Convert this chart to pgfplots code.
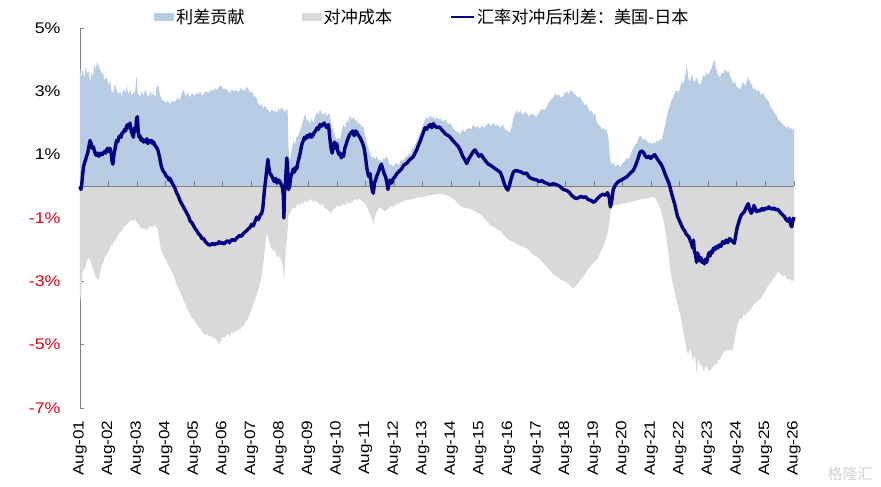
\documentclass[border=0pt]{standalone}
\usepackage{pgfplots}
\pgfplotsset{compat=1.18}
\usepackage{fontspec}
\setmainfont{Liberation Sans}
\newfontfamily\cjk{Noto Sans CJK SC}
\newfontfamily\tickfont[FakeStretch=1.15]{Liberation Sans}
\definecolor{spreadblue}{RGB}{184,204,228}
\definecolor{hedgegrey}{RGB}{217,217,217}
\definecolor{navyline}{RGB}{4,4,132}
\definecolor{axisgrey}{RGB}{128,128,128}
\definecolor{negred}{RGB}{230,0,18}
\begin{document}
\begin{tikzpicture}
\useasboundingbox (-80bp,-79bp) rectangle (801bp,408bp);
\begin{axis}[
  scale only axis,
  width=714bp, height=380bp,
  xmin=0, xmax=25, ymin=-7, ymax=5,
  axis x line*=bottom,
  axis y line*=left,
  x axis line style={draw=none},
  y axis line style={axisgrey, line width=0.8bp},
  xtick={0,...,25},
  xticklabels={Aug-01,Aug-02,Aug-03,Aug-04,Aug-05,Aug-06,Aug-07,Aug-08,Aug-09,Aug-10,Aug-11,Aug-12,Aug-13,Aug-14,Aug-15,Aug-16,Aug-17,Aug-18,Aug-19,Aug-20,Aug-21,Aug-22,Aug-23,Aug-24,Aug-25,Aug-26},
  x tick style={draw=none},
  xticklabel style={rotate=90, anchor=east, font=\tickfont\fontsize{15}{16}\selectfont, xshift=-9bp},
  ytick={-7,-5,-3,-1,1,3,5},
  yticklabels={\textcolor{negred}{-7\%},\textcolor{negred}{-5\%},\textcolor{negred}{-3\%},\textcolor{negred}{-1\%},1\%,3\%,5\%},
  yticklabel style={anchor=east, font=\tickfont\fontsize{15.5}{16}\selectfont, xshift=-16bp},
  y tick style={axisgrey, line width=0.8bp},
  tick align=inside,
  major tick length=4bp,
  clip=false,
  legend columns=3,
  legend style={at={(0.4795,1.029)}, anchor=center, draw=none, fill=none,
    font=\cjk\fontsize{17.2}{19}\selectfont,
    /tikz/every even column/.append style={column sep=55bp},
    nodes={inner sep=2bp}},
  legend cell align=left,
]
% 利差贡献 (blue area)
\addplot[fill=spreadblue, draw=none,
  legend image code/.code={\fill[spreadblue] (0bp,-4bp) rectangle (20bp,4bp);}] table {
x y
0.00 3.75
0.05 3.45
0.10 3.70
0.15 3.40
0.20 3.80
0.25 3.55
0.30 3.65
0.35 3.30
0.40 3.60
0.45 3.45
0.50 3.85
0.55 3.70
0.60 3.95
0.65 3.80
0.70 3.70
0.75 3.55
0.80 3.60
0.85 3.35
0.93 3.45
1.00 3.20
1.05 3.35
1.10 3.00
1.17 2.95
1.22 3.25
1.28 3.05
1.35 2.90
1.40 3.00
1.47 2.85
1.52 3.10
1.58 2.95
1.63 3.15
1.70 2.90
1.75 3.05
1.82 2.85
1.87 3.00
1.92 2.90
1.98 3.50
2.02 2.95
2.10 2.80
2.16 3.00
2.22 2.85
2.28 3.05
2.33 2.95
2.40 2.80
2.47 3.00
2.52 2.85
2.57 2.95
2.63 2.80
2.68 3.10
2.74 3.20
2.80 2.90
2.86 2.75
2.92 2.70
3.00 2.65
3.08 2.70
3.15 2.60
3.22 2.70
3.30 2.65
3.38 2.75
3.45 2.80
3.50 2.70
3.56 2.95
3.62 3.05
3.70 2.85
3.78 2.95
3.85 2.80
3.92 2.95
4.00 2.85
4.09 2.95
4.15 2.90
4.20 3.00
4.28 2.85
4.35 2.95
4.42 3.00
4.50 2.95
4.58 3.05
4.65 3.00
4.72 3.10
4.80 3.05
4.87 3.15
4.95 3.20
5.02 3.05
5.10 3.10
5.18 3.00
5.25 2.95
5.32 3.05
5.40 3.00
5.49 3.05
5.55 2.95
5.62 3.10
5.70 3.05
5.77 3.00
5.84 3.15
5.90 3.05
5.96 2.95
6.03 3.00
6.10 2.80
6.16 2.85
6.22 2.65
6.30 2.55
6.36 2.60
6.42 2.45
6.48 2.55
6.54 2.45
6.60 2.40
6.65 2.30
6.72 2.45
6.77 2.35
6.83 2.40
6.89 2.30
6.95 2.45
7.00 2.40
7.06 2.50
7.12 2.40
7.18 2.35
7.24 2.45
7.27 2.40
7.29 1.40
7.32 0.95
7.35 0.80
7.40 1.10
7.47 1.45
7.52 1.30
7.58 1.55
7.64 1.60
7.70 1.75
7.76 1.90
7.82 2.10
7.88 2.30
7.94 2.05
8.00 2.10
8.05 1.95
8.11 2.15
8.17 2.00
8.23 2.20
8.30 2.35
8.35 2.25
8.40 2.45
8.46 2.30
8.52 2.25
8.58 2.35
8.64 2.20
8.70 2.30
8.75 2.25
8.81 1.90
8.87 1.75
8.93 1.60
8.99 1.45
9.05 1.55
9.10 1.45
9.16 1.75
9.22 1.95
9.28 1.85
9.35 2.10
9.40 2.00
9.45 2.25
9.52 2.10
9.58 2.20
9.64 2.05
9.69 2.10
9.75 1.95
9.80 2.00
9.86 1.85
9.92 1.90
9.98 1.60
10.04 1.35
10.10 1.20
10.16 1.00
10.22 0.90
10.27 0.95
10.33 0.85
10.40 0.95
10.45 0.80
10.50 0.85
10.56 0.75
10.62 0.90
10.68 0.85
10.74 0.95
10.80 0.80
10.86 0.65
10.92 0.70
10.97 0.60
11.03 0.70
11.10 0.75
11.15 0.65
11.20 0.75
11.27 0.85
11.33 0.80
11.40 0.95
11.44 0.90
11.50 1.05
11.56 1.00
11.62 1.15
11.67 1.20
11.73 1.30
11.80 1.45
11.85 1.55
11.90 1.65
11.96 1.80
12.02 1.95
12.08 2.10
12.14 2.20
12.20 2.10
12.26 2.25
12.32 2.15
12.37 2.20
12.43 2.10
12.50 2.20
12.56 2.10
12.61 2.15
12.70 2.05
12.80 2.10
12.90 1.95
12.96 2.00
13.05 1.85
13.15 1.75
13.25 1.70
13.31 1.65
13.40 1.80
13.47 1.70
13.54 1.80
13.62 1.85
13.70 1.80
13.77 1.95
13.85 1.85
13.93 1.90
14.00 1.80
14.06 1.95
14.12 1.85
14.20 1.90
14.30 2.00
14.38 1.90
14.47 2.00
14.55 1.90
14.63 1.95
14.71 1.85
14.80 1.95
14.88 1.80
14.96 1.75
15.06 1.70
15.12 1.90
15.17 2.15
15.23 2.30
15.29 2.40
15.35 2.30
15.42 2.40
15.50 2.25
15.58 2.35
15.64 2.30
15.72 2.20
15.80 2.30
15.88 2.25
15.99 2.20
16.08 2.35
16.18 2.45
16.26 2.40
16.34 2.50
16.42 2.65
16.50 2.75
16.57 2.80
16.63 2.95
16.69 2.85
16.76 2.90
16.84 2.80
16.92 2.85
16.98 2.95
17.04 3.00
17.10 2.90
17.16 3.00
17.21 3.05
17.27 2.95
17.33 2.90
17.39 2.85
17.45 2.80
17.51 2.85
17.57 2.70
17.62 2.65
17.68 2.55
17.74 2.60
17.80 2.45
17.86 2.35
17.92 2.40
17.97 2.25
18.03 2.30
18.09 2.05
18.15 1.95
18.21 1.90
18.27 1.80
18.32 1.85
18.38 1.75
18.44 1.80
18.50 1.55
18.56 0.85
18.62 0.70
18.67 0.75
18.73 0.65
18.79 0.65
18.85 0.70
18.91 0.60
18.97 0.70
19.03 0.75
19.09 0.80
19.14 0.90
19.20 0.85
19.26 0.95
19.32 1.10
19.37 1.20
19.43 1.30
19.49 1.35
19.55 1.50
19.61 1.60
19.67 1.55
19.72 1.45
19.78 1.50
19.84 1.45
19.90 1.35
19.96 1.40
20.02 1.30
20.07 1.40
20.13 1.35
20.19 1.45
20.25 1.40
20.31 1.50
20.36 1.45
20.42 1.65
20.48 1.90
20.54 2.20
20.60 2.40
20.66 2.55
20.72 2.75
20.77 2.80
20.83 2.95
20.89 3.05
20.95 2.95
21.01 3.10
21.07 3.35
21.12 3.20
21.18 3.45
21.24 3.85
21.30 3.40
21.36 3.30
21.42 3.55
21.47 3.35
21.53 3.30
21.59 3.45
21.65 3.25
21.71 3.20
21.77 3.35
21.82 3.50
21.88 3.45
21.94 3.60
22.00 3.50
22.06 3.65
22.12 3.75
22.17 3.90
22.21 4.00
22.25 3.80
22.29 3.65
22.35 3.50
22.41 3.45
22.47 3.60
22.52 3.55
22.58 3.70
22.64 3.60
22.70 3.65
22.76 3.50
22.82 3.35
22.87 3.25
22.93 3.30
22.99 3.15
23.05 3.10
23.11 3.05
23.17 3.20
23.23 3.30
23.29 3.15
23.35 3.35
23.40 3.45
23.46 3.30
23.52 3.20
23.57 3.05
23.63 3.10
23.69 3.00
23.75 3.05
23.81 2.95
23.87 2.90
23.93 2.95
23.99 2.80
24.04 2.75
24.10 2.70
24.16 2.55
24.22 2.45
24.27 2.40
24.33 2.30
24.39 2.25
24.45 2.10
24.51 2.05
24.57 2.00
24.63 1.95
24.69 1.90
24.74 1.85
24.80 1.90
24.86 1.80
24.92 1.85
24.96 1.75
25.00 1.85
} \closedcycle;
\addlegendentry{利差贡献}
% 对冲成本 (grey area)
\addplot[fill=hedgegrey, draw=none,
  legend image code/.code={\fill[hedgegrey] (0bp,-4bp) rectangle (20bp,4bp);}] table {
x y
0.00 -3.65
0.04 -3.40
0.08 -2.80
0.12 -2.55
0.18 -2.65
0.23 -2.35
0.29 -2.25
0.35 -2.30
0.40 -2.45
0.45 -2.60
0.52 -2.80
0.58 -2.90
0.64 -2.95
0.70 -2.75
0.76 -2.50
0.82 -2.40
0.88 -2.20
0.94 -2.15
1.00 -2.05
1.06 -1.90
1.12 -1.85
1.17 -1.80
1.23 -1.70
1.29 -1.60
1.35 -1.50
1.41 -1.45
1.47 -1.40
1.52 -1.30
1.58 -1.25
1.64 -1.20
1.70 -1.15
1.76 -1.10
1.82 -1.05
1.88 -1.10
1.94 -1.05
2.00 -1.15
2.06 -1.20
2.12 -1.30
2.18 -1.35
2.24 -1.30
2.30 -1.40
2.36 -1.35
2.42 -1.30
2.48 -1.25
2.54 -1.30
2.60 -1.20
2.66 -1.25
2.72 -1.35
2.78 -1.70
2.84 -2.00
2.90 -2.15
2.96 -2.25
3.03 -2.35
3.09 -2.50
3.15 -2.55
3.21 -2.70
3.27 -2.80
3.33 -2.95
3.39 -3.10
3.45 -3.20
3.51 -3.35
3.57 -3.45
3.62 -3.60
3.68 -3.70
3.74 -3.85
3.80 -3.95
3.86 -4.05
3.92 -4.15
3.98 -4.20
4.04 -4.30
4.10 -4.35
4.16 -4.45
4.22 -4.50
4.28 -4.60
4.34 -4.65
4.40 -4.70
4.46 -4.65
4.52 -4.75
4.58 -4.70
4.64 -4.80
4.70 -4.75
4.76 -4.85
4.82 -4.90
4.88 -5.00
4.94 -4.85
5.00 -4.75
5.06 -4.80
5.12 -4.70
5.18 -4.65
5.24 -4.75
5.30 -4.60
5.36 -4.65
5.42 -4.55
5.48 -4.60
5.54 -4.50
5.60 -4.55
5.66 -4.40
5.72 -4.45
5.78 -4.30
5.84 -4.25
5.90 -4.15
5.96 -4.00
6.02 -3.85
6.08 -3.70
6.14 -3.55
6.20 -3.40
6.26 -3.20
6.32 -3.00
6.38 -2.70
6.42 -2.40
6.46 -2.10
6.50 -1.75
6.54 -1.45
6.58 -1.60
6.64 -1.80
6.70 -1.95
6.76 -2.05
6.82 -2.00
6.88 -2.20
6.94 -2.25
7.00 -2.20
7.06 -2.35
7.10 -2.50
7.14 -3.05
7.18 -2.40
7.22 -1.90
7.26 -1.50
7.30 -0.95
7.35 -0.85
7.41 -0.75
7.47 -0.65
7.53 -0.70
7.59 -0.60
7.65 -0.55
7.71 -0.60
7.77 -0.50
7.83 -0.55
7.89 -0.45
7.95 -0.50
8.01 -0.45
8.07 -0.40
8.13 -0.45
8.19 -0.50
8.25 -0.45
8.31 -0.50
8.37 -0.55
8.43 -0.60
8.49 -0.55
8.55 -0.65
8.61 -0.70
8.67 -0.75
8.73 -0.80
8.79 -0.85
8.85 -0.75
8.91 -0.70
8.97 -0.65
9.03 -0.60
9.09 -0.65
9.15 -0.60
9.21 -0.55
9.27 -0.60
9.33 -0.55
9.39 -0.50
9.45 -0.55
9.51 -0.50
9.57 -0.45
9.63 -0.40
9.69 -0.45
9.75 -0.40
9.81 -0.40
9.87 -0.45
9.93 -0.50
9.99 -0.55
10.05 -0.65
10.11 -0.80
10.17 -0.90
10.23 -1.05
10.27 -1.20
10.33 -0.95
10.39 -0.80
10.45 -0.70
10.50 -0.65
10.56 -0.70
10.62 -0.75
10.68 -0.80
10.74 -0.75
10.80 -0.70
10.86 -0.65
10.92 -0.60
10.98 -0.65
11.04 -0.60
11.10 -0.55
11.16 -0.55
11.22 -0.50
11.28 -0.50
11.34 -0.45
11.40 -0.45
11.46 -0.42
11.52 -0.45
11.58 -0.40
11.64 -0.40
11.70 -0.38
11.76 -0.36
11.82 -0.35
11.88 -0.36
11.94 -0.33
12.00 -0.34
12.10 -0.31
12.20 -0.30
12.30 -0.27
12.40 -0.26
12.50 -0.24
12.61 -0.23
12.70 -0.25
12.80 -0.27
12.90 -0.30
12.96 -0.33
13.05 -0.38
13.15 -0.45
13.25 -0.55
13.31 -0.62
13.40 -0.65
13.50 -0.68
13.60 -0.70
13.70 -0.72
13.77 -0.76
13.87 -0.80
13.97 -0.85
14.05 -0.90
14.12 -0.97
14.20 -1.05
14.30 -1.15
14.40 -1.25
14.50 -1.30
14.60 -1.35
14.71 -1.40
14.80 -1.50
14.90 -1.60
15.00 -1.68
15.10 -1.72
15.17 -1.75
15.25 -1.80
15.35 -1.85
15.45 -1.88
15.55 -1.92
15.64 -1.95
15.75 -2.05
15.85 -2.15
15.95 -2.20
16.05 -2.25
16.15 -2.35
16.25 -2.45
16.35 -2.55
16.45 -2.65
16.57 -2.78
16.65 -2.82
16.75 -2.88
16.85 -2.95
16.92 -2.98
17.00 -3.00
17.10 -3.08
17.21 -3.18
17.27 -3.22
17.33 -3.18
17.40 -3.10
17.45 -3.05
17.51 -2.95
17.57 -2.90
17.62 -2.85
17.70 -2.75
17.80 -2.60
17.90 -2.50
17.97 -2.42
18.05 -2.35
18.15 -2.25
18.21 -2.10
18.27 -2.00
18.32 -1.90
18.38 -1.75
18.44 -1.55
18.50 -1.35
18.56 -1.00
18.60 -0.70
18.67 -0.62
18.75 -0.60
18.85 -0.58
18.95 -0.55
19.03 -0.55
19.14 -0.52
19.26 -0.50
19.37 -0.47
19.49 -0.44
19.61 -0.42
19.73 -0.40
19.84 -0.38
19.96 -0.35
20.07 -0.34
20.13 -0.36
20.19 -0.45
20.25 -0.58
20.31 -0.65
20.37 -0.85
20.42 -1.05
20.48 -1.30
20.54 -1.70
20.60 -2.10
20.66 -2.60
20.72 -2.95
20.77 -3.10
20.83 -3.40
20.89 -3.60
20.95 -3.85
21.01 -4.05
21.07 -4.30
21.12 -4.60
21.18 -4.85
21.24 -5.20
21.30 -5.30
21.36 -5.10
21.42 -5.35
21.47 -5.50
21.53 -5.30
21.59 -5.90
21.65 -5.40
21.71 -5.70
21.77 -5.60
21.82 -5.80
21.88 -5.75
21.94 -5.65
22.00 -5.80
22.06 -5.85
22.12 -5.75
22.17 -5.70
22.23 -5.60
22.29 -5.65
22.35 -5.50
22.41 -5.45
22.47 -5.35
22.52 -5.25
22.58 -5.20
22.64 -5.15
22.70 -5.20
22.76 -5.15
22.82 -5.20
22.87 -5.10
22.93 -4.80
22.99 -4.50
23.05 -4.30
23.11 -4.15
23.17 -4.20
23.23 -4.05
23.29 -4.10
23.35 -4.00
23.40 -3.95
23.46 -3.90
23.52 -3.85
23.57 -3.75
23.63 -3.70
23.69 -3.65
23.75 -3.60
23.81 -3.55
23.87 -3.50
23.93 -3.40
23.99 -3.30
24.04 -3.20
24.10 -3.15
24.16 -3.05
24.22 -3.00
24.27 -2.90
24.33 -2.85
24.39 -2.75
24.45 -2.70
24.51 -2.75
24.57 -2.80
24.63 -2.85
24.69 -2.80
24.74 -2.90
24.80 -2.95
24.86 -2.90
24.92 -3.00
25.00 -2.95
} \closedcycle;
\addlegendentry{对冲成本}
% zero line with small upward ticks
\draw[axisgrey, line width=0.8bp] (axis cs:0,0) -- (axis cs:25,0);
\pgfplotsinvokeforeach{1,...,25}{\draw[axisgrey, line width=0.8bp] (axis cs:#1,0) -- (axis cs:#1,0.17);}
% 汇率对冲后利差 (line)
\addplot[navyline, line width=3.4bp, line join=round,
  legend image code/.code={\draw[navyline, line width=2.8bp] (0bp,0bp) -- (23bp,0bp);}] table {
x y
0.00 0.00
0.03 -0.10
0.06 0.05
0.09 0.35
0.12 0.60
0.16 0.75
0.20 0.85
0.23 0.95
0.27 1.05
0.31 1.25
0.35 1.45
0.39 1.35
0.43 1.20
0.47 1.25
0.51 1.10
0.55 1.00
0.58 0.98
0.62 1.05
0.66 0.95
0.70 1.00
0.74 1.05
0.78 1.00
0.82 1.05
0.86 1.10
0.90 1.05
0.93 1.15
0.97 1.20
1.01 1.10
1.05 1.20
1.09 1.05
1.12 0.80
1.15 0.70
1.19 1.00
1.23 1.20
1.28 1.45
1.32 1.40
1.36 1.55
1.40 1.60
1.44 1.55
1.48 1.70
1.52 1.70
1.56 1.80
1.60 1.75
1.63 1.90
1.67 1.95
1.71 1.85
1.75 2.00
1.79 1.75
1.83 1.65
1.87 1.55
1.91 1.85
1.95 1.75
1.98 2.15
2.01 2.20
2.04 1.70
2.07 1.55
2.10 1.60
2.14 1.45
2.18 1.50
2.22 1.40
2.26 1.45
2.30 1.40
2.34 1.50
2.38 1.35
2.42 1.45
2.46 1.40
2.50 1.45
2.54 1.35
2.58 1.40
2.62 1.30
2.66 1.25
2.70 1.20
2.74 1.10
2.78 0.95
2.82 0.75
2.86 0.60
2.90 0.50
2.94 0.45
2.98 0.40
3.03 0.30
3.07 0.30
3.11 0.20
3.15 0.25
3.20 0.15
3.26 0.05
3.32 -0.05
3.38 -0.20
3.44 -0.30
3.50 -0.45
3.56 -0.55
3.62 -0.65
3.68 -0.75
3.74 -0.85
3.80 -0.95
3.86 -1.10
3.92 -1.15
3.98 -1.25
4.04 -1.35
4.09 -1.40
4.15 -1.50
4.21 -1.55
4.27 -1.65
4.33 -1.65
4.39 -1.75
4.45 -1.80
4.51 -1.85
4.57 -1.85
4.63 -1.80
4.69 -1.85
4.75 -1.80
4.81 -1.82
4.87 -1.75
4.93 -1.80
4.99 -1.78
5.05 -1.82
5.11 -1.75
5.17 -1.72
5.23 -1.78
5.29 -1.70
5.35 -1.68
5.41 -1.72
5.47 -1.65
5.53 -1.60
5.59 -1.55
5.65 -1.58
5.71 -1.50
5.77 -1.45
5.83 -1.40
5.89 -1.35
5.95 -1.30
6.01 -1.20
6.07 -1.25
6.13 -1.10
6.19 -0.97
6.25 -1.05
6.31 -0.90
6.36 -0.86
6.40 -0.70
6.43 -0.40
6.46 -0.10
6.50 0.20
6.54 0.55
6.58 0.85
6.61 0.60
6.65 0.40
6.70 0.35
6.75 0.25
6.80 0.15
6.85 0.25
6.90 0.10
6.95 0.20
7.00 0.15
7.05 0.05
7.09 -0.05
7.12 -0.30
7.14 -1.00
7.16 -0.20
7.20 0.20
7.24 0.90
7.27 0.60
7.30 -0.10
7.34 0.00
7.38 0.30
7.42 0.40
7.47 0.55
7.51 0.45
7.55 0.60
7.59 0.55
7.63 0.75
7.67 0.90
7.71 1.05
7.76 1.30
7.82 1.45
7.86 1.55
7.90 1.50
7.95 1.60
8.00 1.55
8.05 1.65
8.10 1.55
8.15 1.60
8.20 1.70
8.25 1.75
8.30 1.85
8.35 1.80
8.40 1.95
8.45 1.90
8.50 1.95
8.55 2.00
8.60 1.90
8.65 1.85
8.70 1.95
8.75 1.50
8.79 1.20
8.83 1.05
8.87 1.25
8.91 1.40
8.95 1.20
8.99 1.35
9.03 1.10
9.07 1.00
9.11 1.05
9.15 0.90
9.19 1.00
9.23 0.95
9.27 1.20
9.31 1.30
9.36 1.45
9.40 1.55
9.45 1.65
9.50 1.70
9.55 1.75
9.60 1.60
9.65 1.75
9.70 1.70
9.75 1.60
9.80 1.55
9.85 1.45
9.90 1.35
9.95 1.20
10.00 0.90
10.04 0.60
10.08 0.40
10.12 0.30
10.16 0.40
10.20 0.05
10.24 -0.15
10.27 -0.22
10.31 0.10
10.35 0.20
10.40 0.35
10.45 0.45
10.50 0.60
10.55 0.70
10.60 0.55
10.65 0.40
10.70 0.30
10.74 0.15
10.78 -0.10
10.82 0.10
10.86 0.20
10.91 0.10
10.97 0.25
11.03 0.30
11.09 0.40
11.15 0.45
11.20 0.50
11.26 0.55
11.32 0.65
11.38 0.70
11.44 0.72
11.50 0.80
11.56 0.85
11.62 0.90
11.67 0.93
11.73 1.05
11.79 1.15
11.85 1.30
11.90 1.40
11.96 1.55
12.02 1.70
12.08 1.85
12.14 1.80
12.20 1.90
12.26 1.95
12.32 1.85
12.37 1.98
12.43 1.90
12.50 1.85
12.56 1.88
12.61 1.85
12.70 1.75
12.80 1.65
12.90 1.60
12.96 1.55
13.05 1.45
13.15 1.35
13.25 1.25
13.31 1.15
13.40 0.95
13.47 0.85
13.54 0.72
13.60 0.85
13.67 0.95
13.77 1.10
13.83 1.15
13.90 1.05
13.97 0.95
14.05 1.00
14.12 0.90
14.20 0.80
14.30 0.70
14.40 0.65
14.47 0.60
14.55 0.55
14.63 0.50
14.71 0.45
14.78 0.30
14.85 0.10
14.92 -0.05
14.98 -0.12
15.03 0.00
15.10 0.25
15.17 0.45
15.25 0.50
15.35 0.48
15.45 0.45
15.55 0.40
15.64 0.42
15.72 0.30
15.80 0.25
15.90 0.22
15.99 0.20
16.08 0.15
16.18 0.18
16.26 0.12
16.34 0.10
16.45 0.05
16.57 0.08
16.69 0.05
16.80 0.00
16.92 -0.10
17.04 -0.13
17.12 -0.18
17.21 -0.28
17.30 -0.35
17.39 -0.39
17.47 -0.35
17.55 -0.32
17.62 -0.35
17.70 -0.33
17.80 -0.42
17.90 -0.45
17.97 -0.50
18.03 -0.48
18.10 -0.40
18.21 -0.30
18.30 -0.25
18.40 -0.28
18.47 -0.20
18.53 -0.35
18.57 -0.65
18.62 -0.45
18.67 -0.10
18.75 0.05
18.85 0.15
18.95 0.20
19.05 0.25
19.14 0.30
19.25 0.40
19.37 0.50
19.45 0.65
19.53 0.85
19.61 1.08
19.68 1.12
19.74 1.05
19.80 0.95
19.86 0.90
19.92 0.95
19.98 0.88
20.05 0.95
20.12 1.00
20.19 0.90
20.26 0.80
20.33 0.72
20.40 0.60
20.48 0.40
20.55 0.25
20.62 0.10
20.68 -0.10
20.72 -0.25
20.77 -0.40
20.82 -0.55
20.87 -0.75
20.92 -0.95
20.97 -1.05
21.02 -1.15
21.07 -1.25
21.12 -1.35
21.17 -1.40
21.22 -1.50
21.27 -1.55
21.32 -1.60
21.36 -1.70
21.41 -1.80
21.45 -1.95
21.48 -1.70
21.51 -2.05
21.55 -2.15
21.59 -2.40
21.62 -2.10
21.66 -2.20
21.70 -2.35
21.74 -2.25
21.78 -2.40
21.82 -2.35
21.86 -2.45
21.90 -2.30
21.94 -2.40
21.98 -2.25
22.02 -2.10
22.06 -2.20
22.10 -2.05
22.14 -2.10
22.18 -1.95
22.23 -2.00
22.28 -1.90
22.33 -1.95
22.38 -1.85
22.44 -1.90
22.50 -1.75
22.56 -1.80
22.62 -1.70
22.68 -1.78
22.74 -1.65
22.80 -1.70
22.86 -1.75
22.91 -1.80
22.96 -1.55
23.01 -1.30
23.06 -1.15
23.11 -1.00
23.16 -0.90
23.21 -0.85
23.26 -0.80
23.31 -0.70
23.36 -0.60
23.40 -0.55
23.45 -0.75
23.50 -0.85
23.55 -0.78
23.60 -0.60
23.65 -0.72
23.70 -0.80
23.76 -0.75
23.82 -0.78
23.88 -0.70
23.94 -0.75
24.00 -0.68
24.06 -0.72
24.12 -0.65
24.18 -0.70
24.24 -0.72
24.30 -0.68
24.36 -0.75
24.42 -0.72
24.48 -0.78
24.54 -0.85
24.60 -0.90
24.66 -0.95
24.72 -1.05
24.78 -1.10
24.84 -1.00
24.88 -1.20
24.92 -1.28
24.96 -1.10
25.00 -0.97
};
\addlegendentry{汇率对冲后利差：美国-日本}
\end{axis}
\node[anchor=south east, text=black!18, font=\cjk\fontsize{15}{16}\selectfont] at (796bp,-76bp) {格隆汇};
\end{tikzpicture}
\end{document}
